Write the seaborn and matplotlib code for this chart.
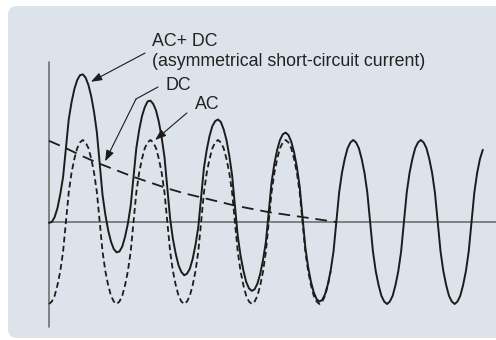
"""
Asymmetrical short-circuit current: AC + DC components.
"""

import matplotlib
matplotlib.use("Agg")
import matplotlib.pyplot as plt
from matplotlib.patches import FancyBboxPatch
from matplotlib.transforms import IdentityTransform
import numpy as np
import seaborn as sns

sns.set_theme(style="white")
plt.rcParams["font.family"] = ["Liberation Sans", "DejaVu Sans"]

# time in cycles, values in units of the AC amplitude
T_STEP = 1 / 24      # AC+DC and AC sampling
DC_STEP = 0.25       # DC sampling

ac_dc = [
    -0.01, 0.00, 0.06, 0.17, 0.34, 0.55, 0.90, 1.25, 1.46, 1.62, 1.73, 1.79,
    1.80, 1.76, 1.67, 1.53, 1.34, 1.09, 0.71, 0.33, 0.09, -0.10, -0.24, -0.33,
    -0.37, -0.36, -0.30, -0.18, -0.02, 0.20, 0.55, 0.90, 1.12, 1.29, 1.40, 1.47,
    1.48, 1.44, 1.36, 1.22, 1.03, 0.79, 0.41, 0.04, -0.21, -0.39, -0.53, -0.61,
    -0.65, -0.63, -0.57, -0.45, -0.28, -0.06, 0.30, 0.66, 0.88, 1.05, 1.17, 1.23,
    1.25, 1.22, 1.13, 1.00, 0.81, 0.57, 0.20, -0.17, -0.41, -0.59, -0.73, -0.81,
    -0.84, -0.82, -0.75, -0.63, -0.46, -0.24, 0.12, 0.48, 0.71, 0.88, 1.00, 1.07,
    1.09, 1.06, 0.98, 0.85, 0.67, 0.43, 0.06, -0.31, -0.55, -0.73, -0.86, -0.94,
    -0.97, -0.95, -0.88, -0.76, -0.59, -0.36, 0.00, 0.36, 0.60, 0.77, 0.90, 0.97,
    1.00, 0.97, 0.90, 0.77, 0.60, 0.36, 0.00, -0.36, -0.60, -0.77, -0.90, -0.97,
    -1.00, -0.97, -0.90, -0.77, -0.60, -0.36, 0.00, 0.36, 0.60, 0.77, 0.90, 0.97,
    1.00, 0.97, 0.90, 0.77, 0.60, 0.36, 0.00, -0.36, -0.60, -0.77, -0.90, -0.97,
    -1.00, -0.97, -0.90, -0.77, -0.60, -0.36, 0.00, 0.36, 0.60, 0.77, 0.88,
]

ac = [
    -1.00, -0.97, -0.90, -0.77, -0.60, -0.36, 0.00, 0.36, 0.60, 0.77, 0.90, 0.97,
    1.00, 0.97, 0.90, 0.77, 0.60, 0.36, 0.00, -0.36, -0.60, -0.77, -0.90, -0.97,
    -1.00, -0.97, -0.90, -0.77, -0.60, -0.36, 0.00, 0.36, 0.60, 0.77, 0.90, 0.97,
    1.00, 0.97, 0.90, 0.77, 0.60, 0.36, 0.00, -0.36, -0.60, -0.77, -0.90, -0.97,
    -1.00, -0.97, -0.90, -0.77, -0.60, -0.36, 0.00, 0.36, 0.60, 0.77, 0.90, 0.97,
    1.00, 0.97, 0.90, 0.77, 0.60, 0.36, 0.00, -0.36, -0.60, -0.77, -0.90, -0.97,
    -1.00, -0.97, -0.90, -0.77, -0.60, -0.36, 0.00, 0.36, 0.60, 0.77, 0.90, 0.97,
    1.00, 0.97, 0.90, 0.77, 0.60, 0.36, 0.00, -0.36, -0.60, -0.77, -0.90, -0.97,
    -1.00, -0.97, -0.90, -0.77, -0.60,
]

dc = [0.99, 0.90, 0.80, 0.71, 0.63, 0.55, 0.48, 0.41, 0.35,
      0.30, 0.25, 0.20, 0.16, 0.12, 0.09, 0.06, 0.03, 0.00]

t_ac_dc = np.arange(len(ac_dc)) * T_STEP
t_ac = np.arange(len(ac)) * T_STEP
t_dc = np.arange(len(dc)) * DC_STEP

LINE = "#1c1c1c"
AXIS = "#6f6f6f"
BG = "#dce3ea"

fig = plt.figure(figsize=(4.96, 3.40), dpi=100)
fig.patch.set_facecolor("white")
bg = FancyBboxPatch((8, 2), 520, 332, boxstyle="round,pad=0,rounding_size=9",
                    transform=IdentityTransform(), facecolor=BG, edgecolor="none",
                    zorder=-1)
fig.patches.append(bg)

ax = fig.add_axes([0, 0, 1, 1])
ax.set_facecolor("none")
ax.set_xlim(-0.725, 6.612)
ax.set_ylim(-1.439, 2.707)
ax.axis("off")

# axes of the sketch
ax.axhline(0, xmin=0.0988, xmax=1, color=AXIS, lw=1.2, zorder=1)
ax.axvline(0, ymin=0.038, ymax=0.818, color=AXIS, lw=1.2, zorder=1)

sns.lineplot(x=t_dc, y=dc, ax=ax, color=LINE, lw=1.3,
             linestyle=(0, (6.5, 3.8)), zorder=2)
sns.lineplot(x=t_ac, y=ac, ax=ax, color=LINE, lw=1.3,
             linestyle=(0, (3.2, 1.9)), zorder=2)
sns.lineplot(x=t_ac_dc, y=ac_dc, ax=ax, color=LINE, lw=1.4,
             solid_joinstyle="round", zorder=3)

txt = dict(fontsize=12.8, color="#222222", va="center", ha="left")
ax.text(1.524, 2.207, "AC+ DC", **txt)
ax.text(1.524, 1.963, "(asymmetrical short-circuit current)", **txt)
ax.text(1.716, 1.659, "DC", **txt)
ax.text(2.16, 1.427, "AC", **txt)

arrow = dict(arrowstyle="-|>,head_length=0.55,head_width=0.2",
             color=LINE, lw=0.8, shrinkA=0, shrinkB=0)
ax.annotate("", xy=(0.62, 1.71), xytext=(1.42, 2.06), arrowprops=arrow)
ax.annotate("", xy=(1.287, 1.50), xytext=(1.612, 1.646),
            arrowprops=dict(arrowstyle="-", color=LINE, lw=0.8,
                            shrinkA=0, shrinkB=0))
ax.annotate("", xy=(0.83, 0.74), xytext=(1.287, 1.50), arrowprops=arrow)
ax.annotate("", xy=(1.57, 1.0), xytext=(2.04, 1.33), arrowprops=arrow)

fig.savefig("out.png", dpi=100, facecolor="white")
